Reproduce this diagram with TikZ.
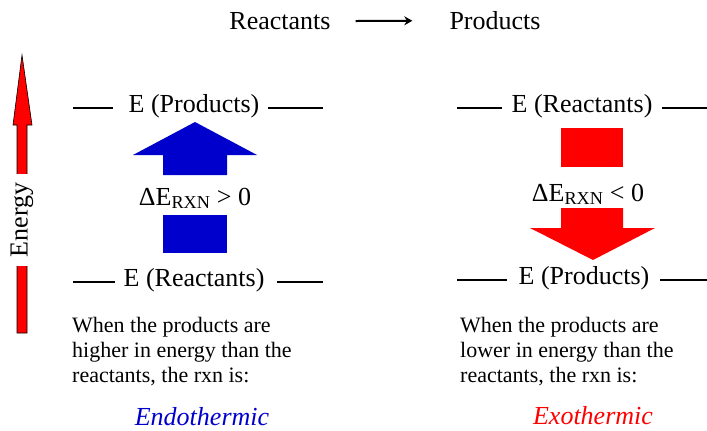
\documentclass[tikz,border=0pt]{standalone}
\usepackage{fontspec}
\setmainfont{Liberation Serif}
\usetikzlibrary{arrows.meta}
\definecolor{endoblue}{HTML}{0000CC}
\definecolor{exored}{HTML}{FF0000}
\tikzset{
  level label/.style={
    font=\fontsize{26}{30}\selectfont,
    inner sep=0pt, anchor=base
  },
  level line/.style={draw=black, line width=2pt},
  delta label/.style={level label},
  note text/.style={
    font=\fontsize{22}{25}\selectfont,
    align=left, anchor=north west, inner sep=0pt
  },
  verdict/.style={
    font=\fontsize{26}{30}\selectfont\itshape,
    inner sep=0pt, anchor=base
  },
  energy bar/.style={fill=exored, draw=black, line width=0.6pt},
  flow arrow/.style={
    line width=2pt,
    -{Stealth[length=8pt,width=9pt]}
  }
}

\begin{document}
\begin{tikzpicture}[x=1pt,y=-1pt]
  \useasboundingbox (0,0) rectangle (707,431);

  % heading
  \node[level label] (react) at (280,29.5) {Reactants};
  \node[level label] (prod) at (495,29.5) {Products};
  \draw[flow arrow, shorten <=25pt, shorten >=37pt] (react.east) -- (prod.west);

  % energy axis
  \draw[energy bar] (22,55) -- (32,125) -- (27,125) -- (27,333) -- (17,333)
    -- (17,125) -- (13,125) -- cycle;
  \node[rotate=90, fill=white, font=\fontsize{26}{30}\selectfont,
    inner xsep=9pt, inner ysep=4pt] (energy) at (22,220) {Energy};

  % endothermic side
  \node[level label] (lprod) at (194,112) {E (Products)};
  \node[level label] (lreact) at (194,286) {E (Reactants)};
  \draw[level line] (73,108) -- (113,108);
  \draw[level line] (268,108) -- (323,108);
  \draw[level line] (73,282) -- (115,282);
  \draw[level line] (277,282) -- (323,282);
  \fill[endoblue] (195,122) -- (257,155) -- (227,155) -- (227,175) -- (163,175)
    -- (163,155) -- (133,155) -- cycle;
  \fill[endoblue] (163,215) rectangle (227,253);
  \node[delta label] (ldelta) at (195,205) {ΔE\textsubscript{RXN} > 0};
  \node[note text] (lnote) at (72,317)
    {When the products are\\higher in energy than the\\reactants, the rxn is:};
  \node[verdict, text=endoblue] (endo) at (202,425) {Endothermic};

  % exothermic side
  \node[level label] (rreact) at (582,112) {E (Reactants)};
  \node[level label] (rprod) at (584,284) {E (Products)};
  \draw[level line] (457,108) -- (502,108);
  \draw[level line] (662,108) -- (707,108);
  \draw[level line] (457,280) -- (507,280);
  \draw[level line] (660,280) -- (707,280);
  \fill[exored] (561,128) rectangle (623,167);
  \fill[exored] (561,208) -- (623,208) -- (623,228) -- (655,228) -- (593,260)
    -- (530,228) -- (561,228) -- cycle;
  \node[delta label] (rdelta) at (588,201) {ΔE\textsubscript{RXN} < 0};
  \node[note text] (rnote) at (460,317)
    {When the products are\\lower in energy than the\\reactants, the rxn is:};
  \node[verdict, text=exored] (exo) at (593,424) {Exothermic};
\end{tikzpicture}
\end{document}
